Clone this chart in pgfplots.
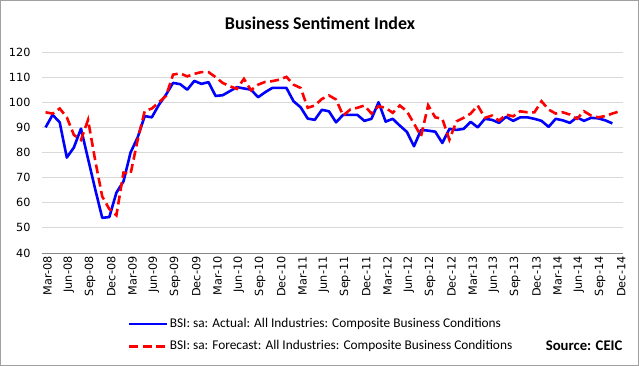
\documentclass[border=0pt]{standalone}
\usepackage{fontspec}
\setmainfont{Carlito}
\newfontfamily\tickfont{DejaVu Sans}
\usepackage{pgfplots}
\pgfplotsset{compat=1.18}
\definecolor{gridgray}{RGB}{217,217,217}
\definecolor{axisgray}{RGB}{134,134,134}
\definecolor{framegray}{RGB}{160,160,160}
\begin{document}
\begin{tikzpicture}
\draw[framegray, line width=1bp] (0.5bp,0.5bp) rectangle (638.5bp,365.5bp);
\node[font=\bfseries\fontsize{18}{20}\selectfont] at (320bp,343bp) {Business Sentiment Index};
\begin{axis}[
  at={(42bp,113bp)}, anchor=south west,
  scale only axis, width=581bp, height=201bp,
  xmin=-0.5, xmax=81.5, ymin=40, ymax=120,
  ytick={40,50,...,120},
  xtick={0,3,...,81},
  xticklabels={Mar-08,Jun-08,Sep-08,Dec-08,Mar-09,Jun-09,Sep-09,Dec-09,Mar-10,Jun-10,Sep-10,Dec-10,Mar-11,Jun-11,Sep-11,Dec-11,Mar-12,Jun-12,Sep-12,Dec-12,Mar-13,Jun-13,Sep-13,Dec-13,Mar-14,Jun-14,Sep-14,Dec-14},
  axis x line=bottom, axis y line=left,
  x axis line style={draw=axisgray, line width=1bp, -},
  y axis line style={draw=none},
  major tick length=0pt,
  ymajorgrids, grid style={draw=gridgray, line width=0.8bp},
  /pgf/number format/assume math mode=true,
  ticklabel style={font=\tickfont\fontsize{11.3}{12}\selectfont},
  yticklabel style={anchor=east, xshift=-8bp},
  xticklabel style={rotate=90, anchor=east, xshift=0bp, yshift=-2bp},
  legend style={at={(axis description cs:0.148,-0.41)}, anchor=west, draw=none, fill=none,
    font=\fontsize{13.4}{14}\selectfont, row sep=8bp, inner sep=0pt,
    nodes={inner sep=1bp, text height=9.5bp, text depth=3bp}},
  legend cell align=left,
  legend image code/.code={\draw[#1] (0bp,0bp) -- (38bp,0bp);},
]
\addplot[blue, line width=2.6bp, line join=round] coordinates {
(0,90)(1,95)(2,92)(3,78)(4,82)(5,89.5)(6,77.5)(7,65.5)(8,54)(9,54.3)
(10,64)(11,68.5)(12,80)(13,86)(14,94.5)(15,94)(16,99)(17,103)(18,107.7)(19,107.2)
(20,105)(21,108.5)(22,107.3)(23,108)(24,102.5)(25,102.8)(26,104.4)(27,106)(28,105.5)(29,105)
(30,102)(31,104)(32,105.7)(33,105.7)(34,105.7)(35,100.4)(36,98)(37,93.5)(38,93)(39,97)
(40,96.4)(41,92)(42,95)(43,95)(44,95)(45,92.6)(46,93.4)(47,100)(48,92.3)(49,93.4)
(50,90.7)(51,88.2)(52,82.5)(53,89)(54,88.7)(55,88.3)(56,83.8)(57,89.4)(58,89)(59,89.4)
(60,92.2)(61,90)(62,93.4)(63,93)(64,91.8)(65,94.2)(66,92.6)(67,94)(68,94)(69,93.4)
(70,92.6)(71,90.2)(72,93.4)(73,92.8)(74,91.8)(75,94)(76,92.6)(77,93.8)(78,93.6)(79,92.8)
(80,91.6)
};
\addlegendentry{BSI: sa: Actual: All Industries: Composite Business Conditions}
\addplot[red, line width=2.6bp, dash pattern=on 9bp off 4.5bp] coordinates {
(0,96)(1,95.5)(2,97.5)(3,94)(4,87)(5,85)(6,93)(7,77)(8,62.5)(9,57.5)
(10,55)(11,72)(12,71.5)(13,85)(14,96.5)(15,97.5)(16,100)(17,102.5)(18,111)(19,111.5)
(20,110.3)(21,111.3)(22,112)(23,112)(24,110)(25,107.7)(26,106.4)(27,105.3)(28,109.3)(29,104.8)
(30,107)(31,108.1)(32,108.4)(33,109)(34,110.1)(35,107)(36,105.7)(37,97.8)(38,98.7)(39,101.3)
(40,102.7)(41,101.1)(42,94.7)(43,97.1)(44,97.8)(45,98.7)(46,95.5)(47,98.4)(48,97.8)(49,95.8)
(50,98.7)(51,96.4)(52,91.5)(53,86.5)(54,98.8)(55,94)(56,93.4)(57,85.1)(58,92.4)(59,93.8)
(60,95.5)(61,98.7)(62,93.8)(63,94.7)(64,92.7)(65,95.1)(66,94.4)(67,96.4)(68,96)(69,96)
(70,100.4)(71,97.1)(72,95.5)(73,96)(74,95.1)(75,93.4)(76,96.4)(77,94.7)(78,94)(79,94.5)
(80,95.5)(81,96.4)
};
\addlegendentry{BSI: sa: Forecast: All Industries: Composite Business Conditions}
\end{axis}
\node[anchor=east, font=\bfseries\fontsize{14.8}{16}\selectfont] at (626bp,20bp) {Source: CEIC};
\end{tikzpicture}
\end{document}
